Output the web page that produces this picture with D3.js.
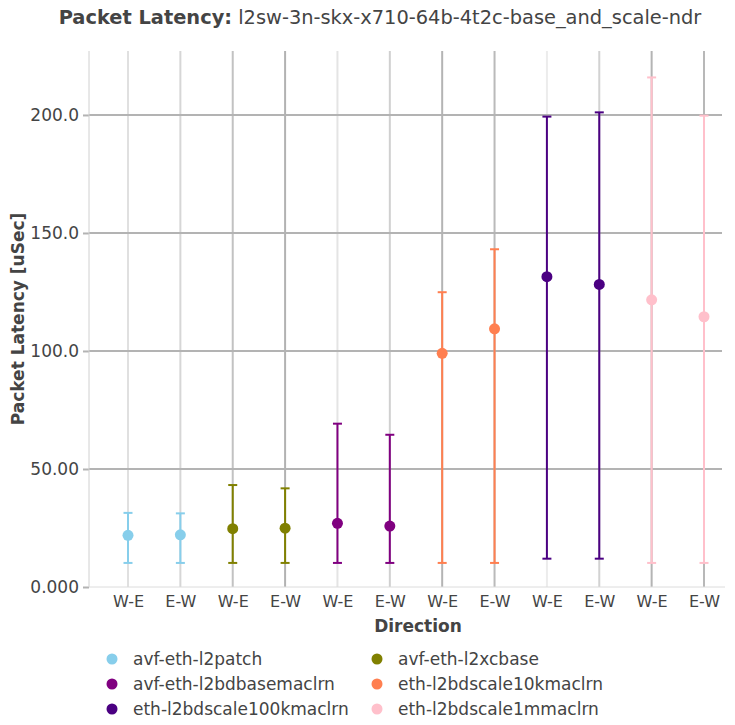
<!DOCTYPE html>
<html>
<head>
<meta charset="utf-8">
<script src="https://cdn.jsdelivr.net/npm/d3@7"></script>
<style>
  body { margin: 0; background: #fff; }
  svg { display: block; font-family: "DejaVu Sans", sans-serif; }
</style>
</head>
<body>
<svg id="chart" width="735" height="725"></svg>
<script>
// ---- data ----
const directions = ["W-E", "E-W", "W-E", "E-W", "W-E", "E-W", "W-E", "E-W", "W-E", "E-W", "W-E", "E-W"];
const seriesNames = ["avf-eth-l2patch", "avf-eth-l2xcbase", "avf-eth-l2bdbasemaclrn",
                     "eth-l2bdscale10kmaclrn", "eth-l2bdscale100kmaclrn", "eth-l2bdscale1mmaclrn"];
const seriesColors = ["#87CEEB", "#808000", "#800080", "#FF7F50", "#4B0082", "#FFC0CB"];
// per series: [W-E, E-W]
const avgValues = [[21.9, 22.1], [24.7, 24.9], [27.0, 25.8], [99.0, 109.4], [131.5, 128.2], [121.7, 114.5]];
const maxValues = [[31.4, 31.2], [43.2, 41.8], [69.2, 64.5], [124.9, 143.1], [199.3, 201.1], [215.9, 199.7]];
const minValues = [[10.2, 10.2], [10.2, 10.2], [10.2, 10.2], [10.2, 10.2], [12.0, 12.0], [10.2, 10.2]];
const yTicks = [0, 50, 100, 150, 200];
const yTickLabels = ["0.000", "50.00", "100.0", "150.0", "200.0"];

// ---- layout ----
const svg = d3.select("#chart");
const plotLeft = 89, plotRight = 722, plotTop = 51, plotBottom = 587;
const x = d3.scaleLinear().domain([0, directions.length - 1]).range([128, 704]);
const y = d3.scaleLinear().domain([0, 227.1]).range([plotBottom, plotTop]);
const vGridColors = ["#e0e0e0", "#d6d6d6", "#c2c2c2", "#b2b2b2", "#e4e4e4", "#d0d0d0",
                     "#b4b4b4", "#bababa", "#ececec", "#d2d2d2", "#b4b4b4", "#b8b8b8"];

// vertical gridlines
svg.append("g").selectAll("line").data(directions).join("line")
  .attr("x1", (d, i) => x(i)).attr("x2", (d, i) => x(i))
  .attr("y1", plotTop).attr("y2", plotBottom)
  .attr("stroke", (d, i) => vGridColors[i]).attr("stroke-width", 2);

// horizontal gridlines
const yAxis = d3.axisLeft(y).tickValues(yTicks).tickFormat((d, i) => yTickLabels[i])
  .tickSize(6).tickPadding(4);
const gy = svg.append("g").attr("transform", `translate(${plotLeft},0)`).call(yAxis);
gy.select(".domain").remove();
gy.selectAll(".tick line").attr("stroke", "#b3b3b3").attr("stroke-width", 2);
gy.selectAll(".tick text").attr("fill", "#444").style("font-size", "17px")
  .style("font-family", "DejaVu Sans");
svg.append("g").selectAll("line").data(yTicks.filter(d => d > 0)).join("line")
  .attr("x1", plotLeft).attr("x2", plotRight)
  .attr("y1", d => y(d)).attr("y2", d => y(d))
  .attr("stroke", "#b3b3b3").attr("stroke-width", 2);

// axis lines
svg.append("line").attr("x1", plotLeft).attr("x2", plotLeft).attr("y1", plotTop).attr("y2", plotBottom)
  .attr("stroke", "#d0d0d0").attr("stroke-width", 1);
svg.append("line").attr("x1", plotLeft).attr("x2", 725).attr("y1", plotBottom).attr("y2", plotBottom)
  .attr("stroke", "#dcdcdc").attr("stroke-width", 1);

// x tick labels
const xAxis = d3.axisBottom(x).tickValues(d3.range(directions.length))
  .tickFormat(i => directions[i]).tickSize(0).tickPadding(9);
const gx = svg.append("g").attr("transform", `translate(0,${plotBottom})`).call(xAxis);
gx.select(".domain").remove();
gx.selectAll(".tick text").attr("fill", "#444").style("font-size", "16px")
  .style("font-family", "DejaVu Sans");

// error bars + points
const points = [];
seriesNames.forEach((name, s) => {
  [0, 1].forEach(k => {
    points.push({ idx: s * 2 + k, color: seriesColors[s],
      avg: avgValues[s][k], max: maxValues[s][k], min: minValues[s][k] });
  });
});
const gm = svg.append("g");
gm.selectAll("line.bar").data(points).join("line").attr("class", "bar")
  .attr("x1", d => x(d.idx)).attr("x2", d => x(d.idx))
  .attr("y1", d => y(d.min)).attr("y2", d => y(d.max))
  .attr("stroke", d => d.color).attr("stroke-width", 2);
gm.selectAll("line.capT").data(points).join("line").attr("class", "capT")
  .attr("x1", d => x(d.idx) - 4.5).attr("x2", d => x(d.idx) + 4.5)
  .attr("y1", d => y(d.max)).attr("y2", d => y(d.max))
  .attr("stroke", d => d.color).attr("stroke-width", 2);
gm.selectAll("line.capB").data(points).join("line").attr("class", "capB")
  .attr("x1", d => x(d.idx) - 4.5).attr("x2", d => x(d.idx) + 4.5)
  .attr("y1", d => y(d.min)).attr("y2", d => y(d.min))
  .attr("stroke", d => d.color).attr("stroke-width", 2);
gm.selectAll("circle").data(points).join("circle")
  .attr("cx", d => x(d.idx)).attr("cy", d => y(d.avg)).attr("r", 5.5)
  .attr("fill", d => d.color);

// titles
const title = svg.append("text").attr("x", 380).attr("y", 24).attr("text-anchor", "middle")
  .attr("fill", "#444").style("font-size", "19.4px");
title.append("tspan").attr("font-weight", "bold").text("Packet Latency:");
title.append("tspan").text(" l2sw-3n-skx-x710-64b-4t2c-base_and_scale-ndr");

svg.append("text").attr("x", 418).attr("y", 632).attr("text-anchor", "middle")
  .attr("fill", "#444").attr("font-weight", "bold").style("font-size", "17px").text("Direction");
svg.append("text").attr("transform", "translate(24,319) rotate(-90)").attr("text-anchor", "middle")
  .attr("fill", "#444").attr("font-weight", "bold").style("font-size", "17px").text("Packet Latency [uSec]");

// legend
const legendCols = [112, 377], legendRows = [659, 684, 709];
const lg = svg.append("g").selectAll("g").data(seriesNames).join("g")
  .attr("transform", (d, i) => `translate(${legendCols[i % 2]},${legendRows[Math.floor(i / 2)]})`);
lg.append("circle").attr("r", 5.5).attr("fill", (d, i) => seriesColors[i]);
lg.append("text").attr("x", 21).attr("dy", "0.35em").attr("fill", "#444")
  .style("font-size", "17px").text(d => d);
</script>
</body>
</html>
